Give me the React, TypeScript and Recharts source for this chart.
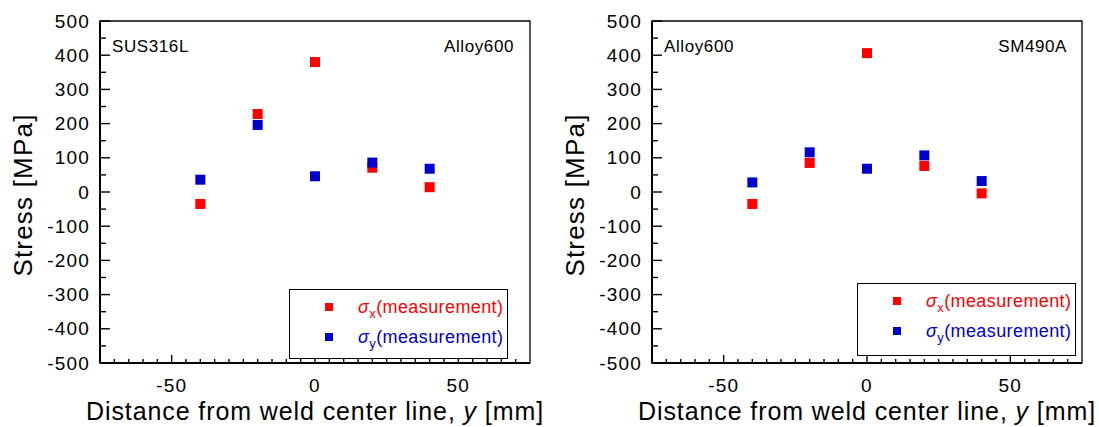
import React from "react";
import {
  ScatterChart,
  Scatter,
  XAxis,
  YAxis,
  ReferenceArea,
  Label,
  Legend,
} from "recharts";

// measurement positions across the weld (mm)
const POSITIONS = [-40, -20, 0, 20, 40];

// SUS316L / Alloy600 joint
const LEFT_SIGMA_X = [-35, 228, 380, 71, 14];
const LEFT_SIGMA_Y = [36, 196, 46, 86, 68];

// Alloy600 / SM490A joint
const RIGHT_SIGMA_X = [-35, 85, 406, 76, -4];
const RIGHT_SIGMA_Y = [28, 116, 68, 107, 32];

const X_TICKS = [-70, -65, -60, -55, -50, -45, -40, -35, -30, -25, -20, -15, -10, -5, 0, 5, 10, 15, 20, 25, 30, 35, 40, 45, 50, 55, 60, 65, 70];
const X_LABELS = [-50, 0, 50];
const Y_TICKS = [-500, -450, -400, -350, -300, -250, -200, -150, -100, -50, 0, 50, 100, 150, 200, 250, 300, 350, 400, 450, 500];
const Y_LABELS = [-500, -400, -300, -200, -100, 0, 100, 200, 300, 400, 500];

const RED = "#ff0000";
const BLUE = "#0000cc";
const FONT = '"Liberation Sans", Arial, sans-serif';

const toPoints = (values: number[]) => POSITIONS.map((x, i) => ({ x, y: values[i] }));

// 10px filled square marker
const SquareMark = ({ cx, cy, fill }: any) => (
  <rect x={cx - 5} y={cy - 5} width={10} height={10} fill={fill} />
);

// ticks point into the plot; only the major ones carry a label
const XTick = ({ x, y, payload }: any) => {
  const major = X_LABELS.includes(payload.value);
  return (
    <g>
      <line x1={x} y1={y} x2={x} y2={y - (major ? 8 : 4)} stroke="#000" strokeWidth={1.4} />
      {major && (
        <text x={x} y={y + 22} textAnchor="middle" dominantBaseline="central" fontSize={19} letterSpacing={1.2} fontFamily={FONT} fill="#000">
          {payload.value}
        </text>
      )}
    </g>
  );
};

const YTick = ({ x, y, payload }: any) => {
  const major = Y_LABELS.includes(payload.value);
  return (
    <g>
      <line x1={x} y1={y} x2={x + (major ? 10 : 6)} y2={y} stroke="#000" strokeWidth={1.4} />
      {major && (
        <text x={x - 10} y={y} textAnchor="end" dominantBaseline="central" fontSize={19} letterSpacing={1.2} fontFamily={FONT} fill="#000">
          {payload.value}
        </text>
      )}
    </g>
  );
};

const XTitle = ({ viewBox }: any) => (
  <text x={viewBox.x + viewBox.width / 2} y={viewBox.y + 57} textAnchor="middle" fontSize={25} letterSpacing={0.9} fontFamily={FONT} fill="#000">
    Distance from weld center line, <tspan fontStyle="italic">y</tspan> [mm]
  </text>
);

const YTitle = ({ viewBox }: any) => {
  const cx = viewBox.x - 17;
  const cy = viewBox.y + viewBox.height / 2 + 3;
  return (
    <text x={cx} y={cy} transform={`rotate(-90, ${cx}, ${cy})`} textAnchor="middle" dominantBaseline="central" fontSize={26} letterSpacing={1.2} fontFamily={FONT} fill="#000">
      Stress [MPa]
    </text>
  );
};

const cornerLabel = (text: string, side: "left" | "right", inset: number) => ({ viewBox }: any) => (
  <text
    x={side === "left" ? viewBox.x + inset : viewBox.x + viewBox.width - inset}
    y={viewBox.y + 25}
    textAnchor={side === "left" ? "start" : "end"}
    dominantBaseline="central"
    fontSize={17}
    letterSpacing={0.6}
    fontFamily={FONT}
    fill="#000"
  >
    {text}
  </text>
);

// legend names look like "σx(measurement)": σ italic, second char as subscript
const LegendBox = ({ payload }: any) => (
  <div style={{ position: "relative", width: "100%", height: "100%", fontFamily: FONT }}>
    {(payload || []).map((entry: any, i: number) => {
      const name: string = entry.value;
      return (
        <div key={name} style={{ position: "absolute", left: 0, top: 17 + i * 30 - 12, height: 24 }}>
          <span style={{ position: "absolute", left: 35, top: 8, width: 8, height: 8, background: entry.color }} />
          <span style={{ position: "absolute", left: 68, top: 0, whiteSpace: "nowrap", color: entry.color, fontSize: 18, letterSpacing: 0.4, lineHeight: "24px" }}>
            <i>{name[0]}</i>
            <sub style={{ fontSize: 13, lineHeight: 0 }}>{name[1]}</sub>
            {name.slice(2)}
          </span>
        </div>
      );
    })}
  </div>
);

interface PanelProps {
  sigmaX: number[];
  sigmaY: number[];
  leftText: string;
  rightText: string;
  width: number;
  margin: { top: number; right: number; bottom: number; left: number };
  legendPos: { left: number; top: number; height: number };
  rightInset: number;
}

function StressPanel({ sigmaX, sigmaY, leftText, rightText, width, margin, legendPos, rightInset }: PanelProps) {
  return (
    <ScatterChart width={width} height={427} margin={margin}>
      <XAxis
        type="number"
        dataKey="x"
        domain={[-75, 75]}
        ticks={X_TICKS}
        interval={0}
        height={30}
        tickSize={0}
        tickMargin={0}
        tick={XTick}
        tickLine={false}
        axisLine={{ stroke: "#000", strokeWidth: 2 }}
        allowDataOverflow
        label={XTitle}
      />
      <YAxis
        type="number"
        dataKey="y"
        domain={[-500, 500]}
        ticks={Y_TICKS}
        interval={0}
        width={60}
        tickSize={0}
        tickMargin={0}
        tick={YTick}
        tickLine={false}
        axisLine={{ stroke: "#000", strokeWidth: 2 }}
        allowDataOverflow
        label={YTitle}
      />
      <ReferenceArea x1={-75} x2={75} y1={-500} y2={500} fill="none" fillOpacity={0} stroke="#000" strokeWidth={1.3}>
        <Label content={cornerLabel(leftText, "left", 12)} />
        <Label content={cornerLabel(rightText, "right", rightInset)} />
      </ReferenceArea>
      <Scatter name="σx(measurement)" data={toPoints(sigmaX)} fill={RED} shape={SquareMark} isAnimationActive={false} />
      <Scatter name="σy(measurement)" data={toPoints(sigmaY)} fill={BLUE} shape={SquareMark} isAnimationActive={false} />
      <Legend
        layout="vertical"
        align="center"
        verticalAlign="middle"
        content={LegendBox}
        wrapperStyle={{
          left: legendPos.left,
          top: legendPos.top,
          width: 219,
          height: legendPos.height,
          border: "1.5px solid #000",
          boxSizing: "border-box",
          background: "#fff",
        }}
      />
    </ScatterChart>
  );
}

export default function App() {
  return (
    <div style={{ position: "absolute", left: 0, top: 0, width: 1099, height: 427, background: "#fff" }}>
      <div style={{ position: "absolute", left: 0, top: 0 }}>
        <StressPanel
          sigmaX={LEFT_SIGMA_X}
          sigmaY={LEFT_SIGMA_Y}
          leftText="SUS316L"
          rightText="Alloy600"
          width={550}
          margin={{ top: 21, right: 20, bottom: 34, left: 40 }}
          legendPos={{ left: 289, top: 289, height: 70 }}
          rightInset={16}
        />
      </div>
      <div style={{ position: "absolute", left: 550, top: 0 }}>
        <StressPanel
          sigmaX={RIGHT_SIGMA_X}
          sigmaY={RIGHT_SIGMA_Y}
          leftText="Alloy600"
          rightText="SM490A"
          width={549}
          margin={{ top: 21, right: 17, bottom: 34, left: 42 }}
          legendPos={{ left: 307, top: 283, height: 73 }}
          rightInset={15}
        />
      </div>
    </div>
  );
}
